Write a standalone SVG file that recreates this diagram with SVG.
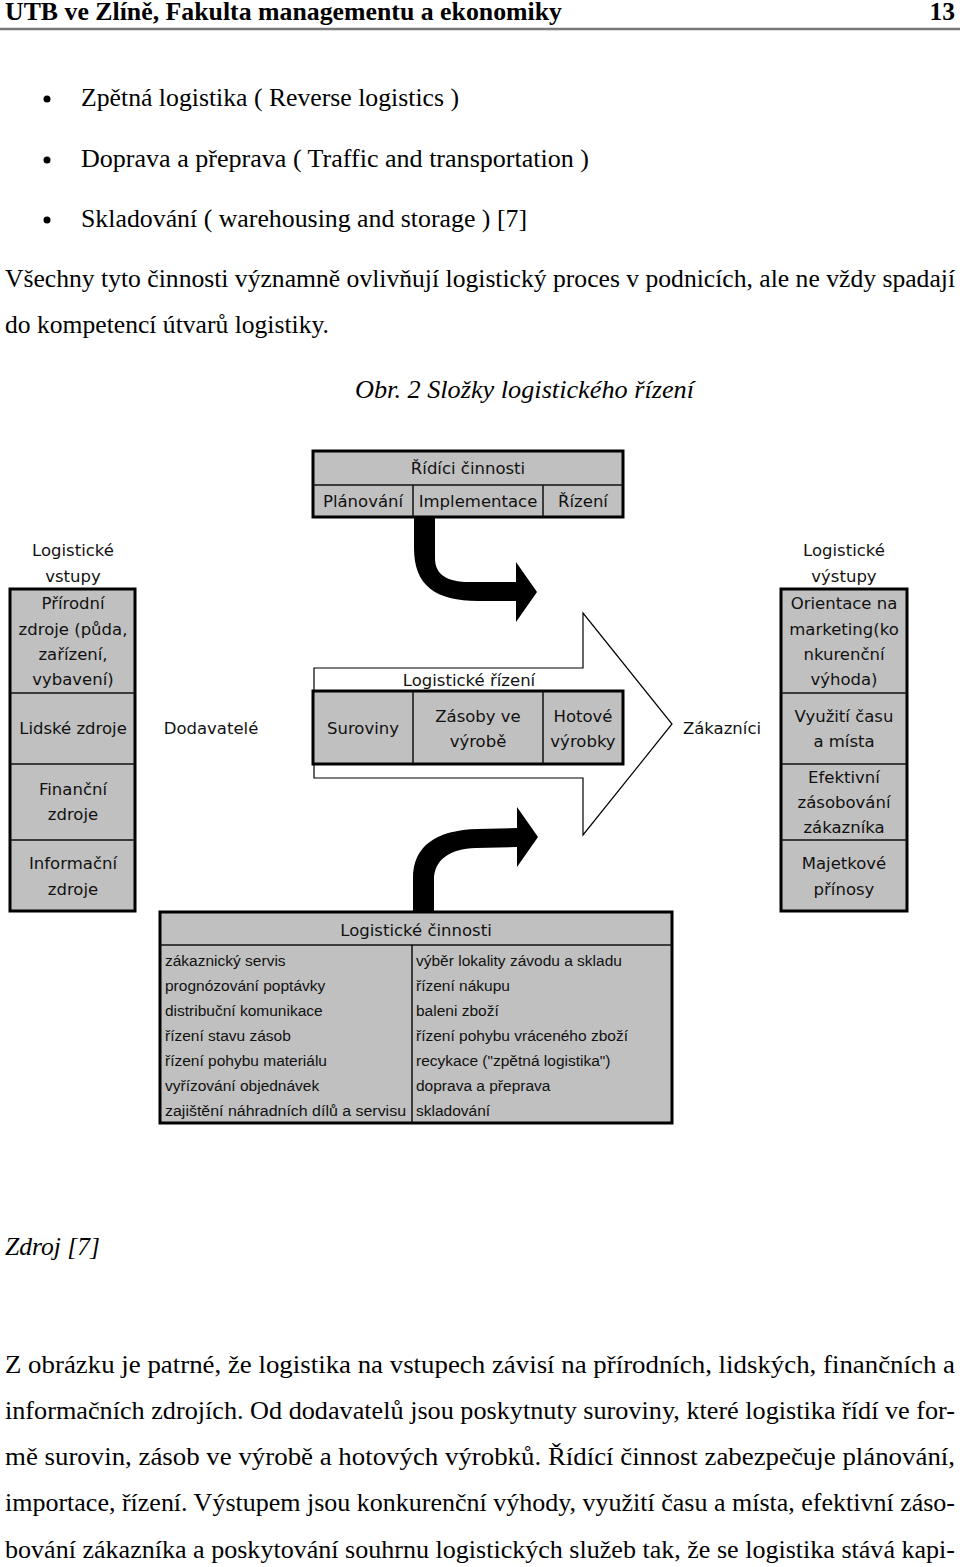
<svg xmlns="http://www.w3.org/2000/svg" width="960" height="1567" viewBox="0 0 960 1567">
<style>
.serif{font-family:"Liberation Serif","Times New Roman",serif;font-size:25.5px;fill:#000}
.b{font-weight:bold}
.it{font-style:italic}
.lbl{font-family:"DejaVu Sans",Verdana,sans-serif;font-size:16.5px;fill:#111;text-anchor:middle}
.lst{font-family:"Liberation Sans",Arial,sans-serif;font-size:15.5px;fill:#111}
.box{fill:#c0c0c0;stroke:#000;stroke-width:3}
.div{stroke:#111;stroke-width:1.5;fill:none}
</style>
<rect width="960" height="1567" fill="#fff"/>
<!-- page header -->
<text class="serif b" x="5" y="20" textLength="557" lengthAdjust="spacingAndGlyphs">UTB ve Zlíně, Fakulta managementu a ekonomiky</text>
<text class="serif b" x="955" y="20" text-anchor="end">13</text>
<line x1="0" y1="29" x2="960" y2="29" stroke="#7a7a7a" stroke-width="2.5"/>
<!-- bullets -->
<circle cx="47" cy="99" r="3.5"/>
<circle cx="47" cy="160" r="3.5"/>
<circle cx="47" cy="220" r="3.5"/>
<text class="serif" x="81" y="106" textLength="378" lengthAdjust="spacingAndGlyphs">Zpětná logistika ( Reverse logistics )</text>
<text class="serif" x="81" y="167" textLength="508" lengthAdjust="spacingAndGlyphs">Doprava a přeprava ( Traffic and transportation )</text>
<text class="serif" x="81" y="227" textLength="446" lengthAdjust="spacingAndGlyphs">Skladování ( warehousing and storage ) [7]</text>
<text class="serif" x="5" y="287" textLength="950" lengthAdjust="spacingAndGlyphs">Všechny tyto činnosti významně ovlivňují logistický proces v podnicích, ale ne vždy spadají</text>
<text class="serif" x="5" y="333" textLength="324" lengthAdjust="spacingAndGlyphs">do kompetencí útvarů logistiky.</text>
<text class="serif it" x="355" y="398" textLength="339" lengthAdjust="spacingAndGlyphs">Obr. 2 Složky logistického řízení</text>

<!-- connectors -->
<g id="connectors">
  <path id="flow-arrow" d="M314,668 L583,668 L583,613 L672,724 L583,835 L583,778 L314,778 Z" fill="#fff" stroke="#000" stroke-width="1.2"/>
  <path id="arrow-top" d="M414,518 L435,518 L435,558 C435,574 446,582 470,582 L516,582 L516,562 L537,592 L516,622 L516,601 L478,601 C436,601 414,586 414,548 Z" fill="#000"/>
  <path id="arrow-bottom" d="M413,911 L413,878 C413,846 436,830 478,829 L517,828 L517,807 L538,837 L517,867 L517,847 L476,848 C449,849 434,860 434,880 L434,911 Z" fill="#000"/>
</g>

<!-- Řídící činnosti -->
<g id="node-ridici">
  <rect class="box" x="313" y="451" width="310" height="66"/>
  <line class="div" x1="313" y1="485" x2="623" y2="485"/>
  <line class="div" x1="413" y1="485" x2="413" y2="517"/>
  <line class="div" x1="543" y1="485" x2="543" y2="517"/>
  <text class="lbl" x="468" y="474">Řídíci činnosti</text>
  <text class="lbl" x="363" y="507">Plánování</text>
  <text class="lbl" x="478" y="507">Implementace</text>
  <text class="lbl" x="583" y="507">Řízení</text>
</g>

<!-- Logistické vstupy -->
<g id="node-vstupy">
  <text class="lbl" x="73" y="556">Logistické</text>
  <text class="lbl" x="73" y="582">vstupy</text>
  <rect class="box" x="10" y="589" width="125" height="322"/>
  <line class="div" x1="10" y1="693" x2="135" y2="693"/>
  <line class="div" x1="10" y1="764" x2="135" y2="764"/>
  <line class="div" x1="10" y1="840" x2="135" y2="840"/>
  <text class="lbl" x="73" y="609">Přírodní</text>
  <text class="lbl" x="73" y="635">zdroje (půda,</text>
  <text class="lbl" x="73" y="660">zařízení,</text>
  <text class="lbl" x="73" y="685">vybavení)</text>
  <text class="lbl" x="73" y="734">Lidské zdroje</text>
  <text class="lbl" x="73" y="795">Finanční</text>
  <text class="lbl" x="73" y="820">zdroje</text>
  <text class="lbl" x="73" y="869">Informační</text>
  <text class="lbl" x="73" y="895">zdroje</text>
</g>

<g id="node-dodavatele">
  <text class="lbl" x="211" y="734">Dodavatelé</text>
</g>

<!-- Logistické řízení -->
<g id="node-rizeni">
  <text class="lbl" x="469" y="686">Logistické řízení</text>
  <rect class="box" x="313" y="691" width="310" height="73"/>
  <line class="div" x1="413" y1="691" x2="413" y2="764"/>
  <line class="div" x1="543" y1="691" x2="543" y2="764"/>
  <text class="lbl" x="363" y="734">Suroviny</text>
  <text class="lbl" x="478" y="722">Zásoby ve</text>
  <text class="lbl" x="478" y="747">výrobě</text>
  <text class="lbl" x="583" y="722">Hotové</text>
  <text class="lbl" x="583" y="747">výrobky</text>
</g>

<g id="node-zakaznici">
  <text class="lbl" x="722" y="734">Zákazníci</text>
</g>

<!-- Logistické výstupy -->
<g id="node-vystupy">
  <text class="lbl" x="844" y="556">Logistické</text>
  <text class="lbl" x="844" y="582">výstupy</text>
  <rect class="box" x="781" y="589" width="126" height="322"/>
  <line class="div" x1="781" y1="693" x2="907" y2="693"/>
  <line class="div" x1="781" y1="764" x2="907" y2="764"/>
  <line class="div" x1="781" y1="840" x2="907" y2="840"/>
  <text class="lbl" x="844" y="609">Orientace na</text>
  <text class="lbl" x="844" y="635">marketing(ko</text>
  <text class="lbl" x="844" y="660">nkurenční</text>
  <text class="lbl" x="844" y="685">výhoda)</text>
  <text class="lbl" x="844" y="722">Využití času</text>
  <text class="lbl" x="844" y="747">a místa</text>
  <text class="lbl" x="844" y="783">Efektivní</text>
  <text class="lbl" x="844" y="808">zásobování</text>
  <text class="lbl" x="844" y="833">zákazníka</text>
  <text class="lbl" x="844" y="869">Majetkové</text>
  <text class="lbl" x="844" y="895">přínosy</text>
</g>

<!-- Logistické činnosti -->
<g id="node-cinnosti">
  <rect class="box" x="160" y="912" width="512" height="211"/>
  <line class="div" x1="160" y1="945" x2="672" y2="945"/>
  <line class="div" x1="412" y1="945" x2="412" y2="1123"/>
  <text class="lbl" x="416" y="936">Logistické činnosti</text>
  <text class="lst" x="165" y="966">zákaznický servis</text>
  <text class="lst" x="165" y="991">prognózování poptávky</text>
  <text class="lst" x="165" y="1016">distribuční komunikace</text>
  <text class="lst" x="165" y="1041">řízení stavu zásob</text>
  <text class="lst" x="165" y="1066">řízení pohybu materiálu</text>
  <text class="lst" x="165" y="1091">vyřízování objednávek</text>
  <text class="lst" x="165" y="1116" textLength="241" lengthAdjust="spacingAndGlyphs">zajištění náhradních dílů a servisu</text>
  <text class="lst" x="416" y="966">výběr lokality závodu a skladu</text>
  <text class="lst" x="416" y="991">řízení nákupu</text>
  <text class="lst" x="416" y="1016">baleni zboží</text>
  <text class="lst" x="416" y="1041">řízení pohybu vráceného zboží</text>
  <text class="lst" x="416" y="1066">recykace ("zpětná logistika")</text>
  <text class="lst" x="416" y="1091">doprava a přeprava</text>
  <text class="lst" x="416" y="1116">skladování</text>
</g>

<!-- source and body text -->
<text class="serif it" x="5" y="1255" textLength="95" lengthAdjust="spacingAndGlyphs">Zdroj [7]</text>
<text class="serif" x="5" y="1373" textLength="950" lengthAdjust="spacingAndGlyphs">Z obrázku je patrné, že logistika na vstupech závisí na přírodních, lidských, finančních a</text>
<text class="serif" x="5" y="1419" textLength="950" lengthAdjust="spacingAndGlyphs">informačních zdrojích. Od dodavatelů jsou poskytnuty suroviny, které logistika řídí ve for-</text>
<text class="serif" x="5" y="1465" textLength="950" lengthAdjust="spacingAndGlyphs">mě surovin, zásob ve výrobě a hotových výrobků. Řídící činnost zabezpečuje plánování,</text>
<text class="serif" x="5" y="1511" textLength="950" lengthAdjust="spacingAndGlyphs">importace, řízení. Výstupem jsou konkurenční výhody, využití času a místa, efektivní záso-</text>
<text class="serif" x="5" y="1558" textLength="950" lengthAdjust="spacingAndGlyphs">bování zákazníka a poskytování souhrnu logistických služeb tak, že se logistika stává kapi-</text>
</svg>
